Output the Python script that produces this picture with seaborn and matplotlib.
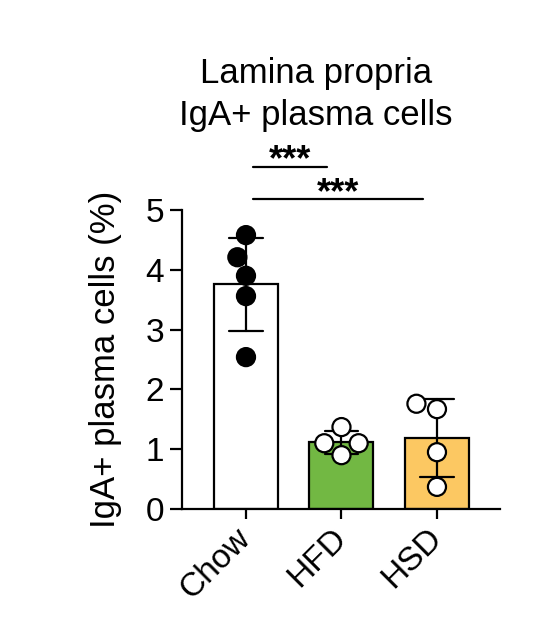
import pandas as pd
import numpy as np
import matplotlib.pyplot as plt
import seaborn as sns

# values (% IgA+ plasma cells per mouse)
groups = ['Chow', 'HFD', 'HSD']
chow_vals = [4.58, 4.21, 3.90, 3.56, 2.54]
hfd_vals = [1.37, 1.10, 1.10, 0.90]
hsd_vals = [1.76, 1.67, 0.95, 0.37]
bar_colors = ['white', '#72B843', '#FCC862']
dot_colors = ['black', 'white', 'white']
comparisons = [('Chow', 'HFD'), ('Chow', 'HSD')]
comparison_labels = ['***', '***']
comparison_heights = [5.72, 5.18]
y_ticks = [0, 1, 2, 3, 4, 5]

df = pd.DataFrame({
    'group': ['Chow'] * len(chow_vals) + ['HFD'] * len(hfd_vals) + ['HSD'] * len(hsd_vals),
    'value': chow_vals + hfd_vals + hsd_vals,
})

sns.set_style('ticks')
plt.rcParams['font.family'] = ['Liberation Sans', 'DejaVu Sans']
plt.rcParams.update({'text.color': 'black', 'axes.labelcolor': 'black',
                     'xtick.color': 'black', 'ytick.color': 'black',
                     'axes.edgecolor': 'black'})

lw = 1.6
fig = plt.figure(figsize=(5.45, 6.18), dpi=100)
ax = fig.add_axes([182 / 545, 1 - 509 / 618, 318 / 545, 299 / 618])

sns.barplot(data=df, x='group', y='value', hue='group', order=groups, hue_order=groups,
            palette=dict(zip(groups, bar_colors)), saturation=1, errorbar='sd',
            capsize=0.35, width=0.67, edgecolor='black', linewidth=lw, legend=False, ax=ax,
            err_kws={'color': 'black', 'linewidth': lw})
sns.swarmplot(data=df, x='group', y='value', hue='group', order=groups, hue_order=groups,
              palette=dict(zip(groups, dot_colors)), size=13, edgecolor='black',
              linewidth=lw, legend=False, ax=ax, zorder=5)

ax.set_ylim(0, 5)
ax.set_xlim(-0.67, 2.66)
ax.set_yticks(y_ticks)
ax.set_ylabel('IgA+ plasma cells (%)', fontsize=25, labelpad=17)
ax.set_xlabel('')
ax.tick_params(axis='y', labelsize=24, length=9, width=lw, pad=4)
ax.tick_params(axis='x', labelsize=24, length=7.5, width=lw, pad=10)
plt.setp(ax.get_xticklabels(), rotation=45, ha='right', va='center', rotation_mode='anchor')
sns.despine(ax=ax)
for s in ['left', 'bottom']:
    ax.spines[s].set_linewidth(lw)

# significance brackets
for (g1, g2), lab, h in zip(comparisons, comparison_labels, comparison_heights):
    x1 = groups.index(g1) + 0.07
    x2 = groups.index(g2) - 0.15
    ax.plot([x1, x2], [h, h], color='black', lw=lw, clip_on=False)
    ax.text((x1 + x2) / 2, h - 0.06, lab, ha='center', va='baseline',
            fontsize=26, fontweight='bold', clip_on=False)

fig.text(316 / 545, 1 - 83 / 618, 'Lamina propria', ha='center', va='baseline', fontsize=25)
fig.text(316 / 545, 1 - 125 / 618, 'IgA+ plasma cells', ha='center', va='baseline', fontsize=25)

fig.savefig('out.png', dpi=100, facecolor='white')
